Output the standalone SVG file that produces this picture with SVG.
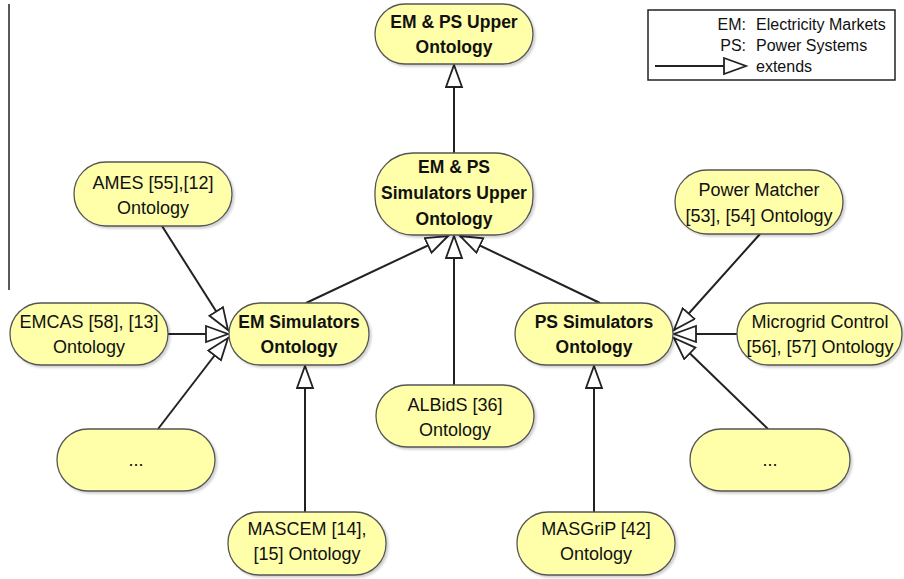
<svg xmlns="http://www.w3.org/2000/svg" width="904" height="579" viewBox="0 0 904 579">
<style>
.n{fill:#ffffaa;stroke:#555;stroke-width:1.3;filter:url(#sh)}
.t{font-family:"Liberation Sans",Arial,sans-serif;font-size:18px;fill:#111;text-anchor:middle}
.b{font-weight:bold;font-size:17.5px}
.c{stroke:#222;stroke-width:2;fill:none;marker-end:url(#ext)}
.lg{font-family:"Liberation Sans",Arial,sans-serif;font-size:16px;fill:#111}
</style>
<defs>
<filter id="sh" x="-10%" y="-10%" width="125%" height="130%">
<feDropShadow dx="2" dy="2" stdDeviation="1.2" flood-color="#000" flood-opacity="0.18"/>
</filter>
<marker id="ext" markerUnits="userSpaceOnUse" markerWidth="26" markerHeight="20" refX="23" refY="9" orient="auto">
<path d="M1,1 L23,9 L1,17 Z" fill="#fff" stroke="#222" stroke-width="1.8"/>
</marker>
</defs>
<rect width="904" height="579" fill="#fff"/>
<line x1="9" y1="4" x2="9" y2="290" stroke="#222" stroke-width="1.5"/>

<g id="connectors">
<line class="c" x1="454" y1="153" x2="454" y2="65"/>
<line class="c" x1="306" y1="303" x2="448" y2="236"/>
<line class="c" x1="454" y1="385" x2="454" y2="236"/>
<line class="c" x1="600" y1="303" x2="460" y2="236"/>
<line class="c" x1="162" y1="226" x2="228" y2="330"/>
<line class="c" x1="168" y1="334" x2="228" y2="334"/>
<line class="c" x1="158" y1="429" x2="228" y2="338"/>
<line class="c" x1="760" y1="234" x2="674" y2="330"/>
<line class="c" x1="737" y1="334" x2="674" y2="334"/>
<line class="c" x1="768" y1="429" x2="674" y2="338"/>
<line class="c" x1="305" y1="512" x2="305" y2="366"/>
<line class="c" x1="594" y1="512" x2="594" y2="366"/>
</g>

<g id="upper">
<rect class="n" x="375" y="4" width="158" height="60" rx="30"/>
<text class="t b" x="454" y="28">EM &amp; PS Upper</text>
<text class="t b" x="454" y="53">Ontology</text>
</g>
<g id="simupper">
<rect class="n" x="375" y="153" width="158" height="82" rx="38"/>
<text class="t b" x="454" y="173">EM &amp; PS</text>
<text class="t b" x="454" y="199">Simulators Upper</text>
<text class="t b" x="454" y="225">Ontology</text>
</g>
<g id="ames">
<rect class="n" x="74" y="162" width="158" height="64" rx="32"/>
<text class="t" x="153" y="189">AMES [55],[12]</text>
<text class="t" x="153" y="214">Ontology</text>
</g>
<g id="emcas">
<rect class="n" x="10" y="303" width="158" height="62" rx="31"/>
<text class="t" x="89" y="328">EMCAS [58], [13]</text>
<text class="t" x="89" y="353">Ontology</text>
</g>
<g id="dotsleft">
<rect class="n" x="57" y="429" width="158" height="62" rx="31"/>
<text class="t" x="136" y="466">...</text>
</g>
<g id="emsim">
<rect class="n" x="229" y="303" width="140" height="62" rx="31"/>
<text class="t b" x="299" y="328">EM Simulators</text>
<text class="t b" x="299" y="353">Ontology</text>
</g>
<g id="albids">
<rect class="n" x="376" y="385" width="158" height="62" rx="31"/>
<text class="t" x="455" y="411">ALBidS [36]</text>
<text class="t" x="455" y="436">Ontology</text>
</g>
<g id="mascem">
<rect class="n" x="228" y="512" width="158" height="63" rx="31"/>
<text class="t" x="307" y="535">MASCEM [14],</text>
<text class="t" x="307" y="560">[15] Ontology</text>
</g>
<g id="pssim">
<rect class="n" x="515" y="303" width="158" height="62" rx="31"/>
<text class="t b" x="594" y="328">PS Simulators</text>
<text class="t b" x="594" y="353">Ontology</text>
</g>
<g id="masgrip">
<rect class="n" x="517" y="512" width="158" height="63" rx="31"/>
<text class="t" x="596" y="535">MASGriP [42]</text>
<text class="t" x="596" y="560">Ontology</text>
</g>
<g id="powermatcher">
<rect class="n" x="675" y="170" width="168" height="64" rx="32"/>
<text class="t" x="759" y="196">Power Matcher</text>
<text class="t" x="759" y="222">[53], [54] Ontology</text>
</g>
<g id="microgrid">
<rect class="n" x="737" y="303" width="165" height="62" rx="31"/>
<text class="t" x="820" y="328">Microgrid Control</text>
<text class="t" x="820" y="353">[56], [57] Ontology</text>
</g>
<g id="dotsright">
<rect class="n" x="690" y="429" width="160" height="62" rx="31"/>
<text class="t" x="770" y="466">...</text>
</g>

<g id="legend">
<rect x="648" y="10" width="247" height="70" fill="#fff" stroke="#222" stroke-width="1.5"/>
<text class="lg" x="746" y="30" text-anchor="end">EM:</text>
<text class="lg" x="756" y="30">Electricity Markets</text>
<text class="lg" x="746" y="51" text-anchor="end">PS:</text>
<text class="lg" x="756" y="51">Power Systems</text>
<line class="c" x1="655" y1="66" x2="746" y2="66"/>
<text class="lg" x="756" y="72">extends</text>
</g>
</svg>
